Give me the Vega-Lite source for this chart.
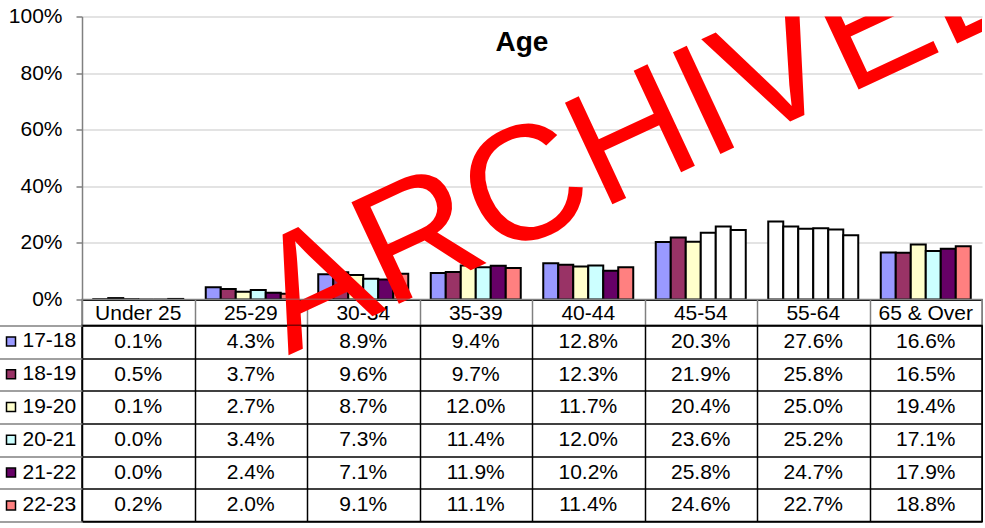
{
  "$schema": "https://vega.github.io/schema/vega-lite/v6.json",
  "padding": {"top": 5.5, "left": -3, "right": 0, "bottom": 0},
  "background": "white",
  "spacing": 0,
  "bounds": "flush",
  "config": {"font": "Liberation Sans", "view": {"stroke": null}},
  "resolve": {"scale": {"fill": "independent"}, "legend": {"fill": "independent"}},
  "datasets": {
    "age": [
      {"age": "Under 25", "cohort": "17-18", "v": 0.001},
      {"age": "25-29", "cohort": "17-18", "v": 0.043},
      {"age": "30-34", "cohort": "17-18", "v": 0.089},
      {"age": "35-39", "cohort": "17-18", "v": 0.094},
      {"age": "40-44", "cohort": "17-18", "v": 0.128},
      {"age": "45-54", "cohort": "17-18", "v": 0.203},
      {"age": "55-64", "cohort": "17-18", "v": 0.276},
      {"age": "65 & Over", "cohort": "17-18", "v": 0.166},
      {"age": "Under 25", "cohort": "18-19", "v": 0.005},
      {"age": "25-29", "cohort": "18-19", "v": 0.037},
      {"age": "30-34", "cohort": "18-19", "v": 0.096},
      {"age": "35-39", "cohort": "18-19", "v": 0.097},
      {"age": "40-44", "cohort": "18-19", "v": 0.123},
      {"age": "45-54", "cohort": "18-19", "v": 0.219},
      {"age": "55-64", "cohort": "18-19", "v": 0.258},
      {"age": "65 & Over", "cohort": "18-19", "v": 0.165},
      {"age": "Under 25", "cohort": "19-20", "v": 0.001},
      {"age": "25-29", "cohort": "19-20", "v": 0.027},
      {"age": "30-34", "cohort": "19-20", "v": 0.087},
      {"age": "35-39", "cohort": "19-20", "v": 0.120},
      {"age": "40-44", "cohort": "19-20", "v": 0.117},
      {"age": "45-54", "cohort": "19-20", "v": 0.204},
      {"age": "55-64", "cohort": "19-20", "v": 0.250},
      {"age": "65 & Over", "cohort": "19-20", "v": 0.194},
      {"age": "Under 25", "cohort": "20-21", "v": 0.000},
      {"age": "25-29", "cohort": "20-21", "v": 0.034},
      {"age": "30-34", "cohort": "20-21", "v": 0.073},
      {"age": "35-39", "cohort": "20-21", "v": 0.114},
      {"age": "40-44", "cohort": "20-21", "v": 0.120},
      {"age": "45-54", "cohort": "20-21", "v": 0.236},
      {"age": "55-64", "cohort": "20-21", "v": 0.252},
      {"age": "65 & Over", "cohort": "20-21", "v": 0.171},
      {"age": "Under 25", "cohort": "21-22", "v": 0.000},
      {"age": "25-29", "cohort": "21-22", "v": 0.024},
      {"age": "30-34", "cohort": "21-22", "v": 0.071},
      {"age": "35-39", "cohort": "21-22", "v": 0.119},
      {"age": "40-44", "cohort": "21-22", "v": 0.102},
      {"age": "45-54", "cohort": "21-22", "v": 0.258},
      {"age": "55-64", "cohort": "21-22", "v": 0.247},
      {"age": "65 & Over", "cohort": "21-22", "v": 0.179},
      {"age": "Under 25", "cohort": "22-23", "v": 0.002},
      {"age": "25-29", "cohort": "22-23", "v": 0.020},
      {"age": "30-34", "cohort": "22-23", "v": 0.091},
      {"age": "35-39", "cohort": "22-23", "v": 0.111},
      {"age": "40-44", "cohort": "22-23", "v": 0.114},
      {"age": "45-54", "cohort": "22-23", "v": 0.246},
      {"age": "55-64", "cohort": "22-23", "v": 0.227},
      {"age": "65 & Over", "cohort": "22-23", "v": 0.188}
    ],
    "stamp": [{"w": "ARCHIVED"}]
  },
  "vconcat": [
    {
      "width": 900,
      "height": 283,
      "title": {"text": "Age", "fontSize": 28, "fontWeight": "bold", "anchor": "middle", "frame": "group", "offset": -73, "baseline": "alphabetic", "dx": -10, "color": "black"},
      "layer": [
        {
          "data": {"name": "age"},
          "mark": {"type": "bar", "stroke": "black", "strokeWidth": 2},
          "encoding": {
            "x": {"field": "age", "type": "nominal", "scale": {"domain": ["Under 25", "25-29", "30-34", "35-39", "40-44", "45-54", "55-64", "65 & Over"], "paddingInner": 0, "paddingOuter": 0},
              "axis": {"labels": false, "ticks": false, "domainColor": "black", "domainWidth": 2, "title": null}},
            "xOffset": {"field": "cohort", "type": "nominal", "scale": {"domain": ["17-18", "18-19", "19-20", "20-21", "21-22", "22-23"], "paddingInner": 0, "paddingOuter": 0.75}},
            "y": {"field": "v", "type": "quantitative", "scale": {"domain": [0, 1], "nice": false},
              "axis": {"format": ".0%", "values": [0, 0.2, 0.4, 0.6, 0.8, 1], "labelFontSize": 21, "labelColor": "black", "tickColor": "#808080", "tickSize": 6, "tickWidth": 1.5, "labelPadding": 14, "domainColor": "#808080", "domainWidth": 1.5, "gridColor": "#c8c8c8", "gridWidth": 1.2, "title": null}},
            "fill": {
              "condition": {"test": "datum.age === '55-64' || (datum.age === '45-54' && (datum.cohort === '20-21' || datum.cohort === '21-22' || datum.cohort === '22-23'))", "value": "white"},
              "field": "cohort", "type": "nominal",
              "scale": {"domain": ["17-18", "18-19", "19-20", "20-21", "21-22", "22-23"], "range": ["#9999ff", "#993366", "#ffffcc", "#ccffff", "#660066", "#ff8080"]},
              "legend": null
            }
          }
        },
        {
          "data": {"name": "stamp"},
          "mark": {"type": "text", "clip": true, "fontSize": 163, "angle": -25, "align": "left", "baseline": "alphabetic", "color": "#ff0000"},
          "encoding": {
            "x": {"datum": "25-29"},
            "xOffset": {"datum": "22-23"},
            "y": {"datum": -0.198},
            "text": {"field": "w"}
          }
        }
      ]
    },
    {
      "width": 900,
      "height": 26,
      "view": {"stroke": "#808080", "strokeWidth": 1.5},
      "layer": [
        {
          "data": {"name": "age"},
          "transform": [{"filter": "datum.cohort === '17-18'"}],
          "mark": {"type": "text", "fontSize": 21, "color": "black", "dy": 1},
          "encoding": {
            "x": {"field": "age", "type": "nominal", "scale": {"domain": ["Under 25", "25-29", "30-34", "35-39", "40-44", "45-54", "55-64", "65 & Over"], "paddingInner": 0, "paddingOuter": 0},
              "axis": {"grid": true, "tickBand": "extent", "labels": false, "ticks": false, "domain": false, "gridColor": "#808080", "gridWidth": 1.5, "title": null}},
            "text": {"field": "age"}
          }
        },
        {
          "data": {"name": "stamp"},
          "mark": {"type": "text", "clip": true, "fontSize": 163, "angle": -25, "align": "left", "baseline": "alphabetic", "color": "#ff0000"},
          "encoding": {
            "x": {"datum": "25-29"},
            "xOffset": {"datum": "22-23", "scale": {"domain": ["17-18", "18-19", "19-20", "20-21", "21-22", "22-23"], "paddingInner": 0, "paddingOuter": 0.75}},
            "y": {"datum": -0.198, "type": "quantitative", "scale": {"domain": [-0.0919, 0], "nice": false, "zero": false}, "axis": null},
            "text": {"field": "w"}
          }
        }
      ]
    },
    {
      "width": 900,
      "height": 196,
      "view": {"stroke": "black", "strokeWidth": 1.5},
      "resolve": {"scale": {"y": "independent"}},
      "layer": [
        {
          "data": {"name": "age"},
          "mark": {"type": "text", "fontSize": 21, "color": "black"},
          "encoding": {
            "x": {"field": "age", "type": "nominal", "scale": {"domain": ["Under 25", "25-29", "30-34", "35-39", "40-44", "45-54", "55-64", "65 & Over"], "paddingInner": 0, "paddingOuter": 0},
              "axis": {"grid": true, "tickBand": "extent", "labels": false, "ticks": false, "domain": false, "gridColor": "black", "gridWidth": 1.5, "title": null}},
            "y": {"field": "cohort", "type": "nominal", "scale": {"domain": ["17-18", "18-19", "19-20", "20-21", "21-22", "22-23"], "paddingInner": 0, "paddingOuter": 0},
              "axis": {"grid": true, "tickBand": "extent", "labels": false, "ticks": true, "tickSize": 83, "tickWidth": 1.5, "tickColor": "#808080", "labelPadding": 0, "minExtent": 83, "maxExtent": 83, "domain": false, "gridColor": "black", "gridWidth": 1.5, "title": null}},
            "text": {"field": "v", "type": "quantitative", "format": ".1%"}
          }
        },
        {
          "data": {"name": "age"},
          "transform": [{"filter": "false"}],
          "mark": {"type": "square", "filled": true, "stroke": "black", "strokeWidth": 1.5},
          "encoding": {
            "fill": {"field": "cohort", "type": "nominal",
              "scale": {"domain": ["17-18", "18-19", "19-20", "20-21", "21-22", "22-23"], "range": ["#9999ff", "#993366", "#ffffcc", "#ccffff", "#660066", "#ff8080"]},
              "legend": {"orient": "none", "legendX": -81.5, "legendY": 5.4, "title": null, "symbolType": "square", "symbolSize": 81, "symbolStrokeColor": "black", "symbolStrokeWidth": 1.5, "symbolOpacity": 1, "labelFontSize": 21, "labelColor": "black", "labelFont": "Liberation Sans", "rowPadding": 10.8, "labelOffset": 1, "padding": 0}
            }
          }
        },
        {
          "data": {"name": "stamp"},
          "mark": {"type": "text", "clip": true, "fontSize": 163, "angle": -25, "align": "left", "baseline": "alphabetic", "color": "#ff0000"},
          "encoding": {
            "x": {"datum": "25-29"},
            "xOffset": {"datum": "22-23", "scale": {"domain": ["17-18", "18-19", "19-20", "20-21", "21-22", "22-23"], "paddingInner": 0, "paddingOuter": 0.75}},
            "y": {"datum": -0.198, "type": "quantitative", "scale": {"domain": [-0.7845, -0.0919], "nice": false, "zero": false}, "axis": null},
            "text": {"field": "w"}
          }
        }
      ]
    }
  ]
}
